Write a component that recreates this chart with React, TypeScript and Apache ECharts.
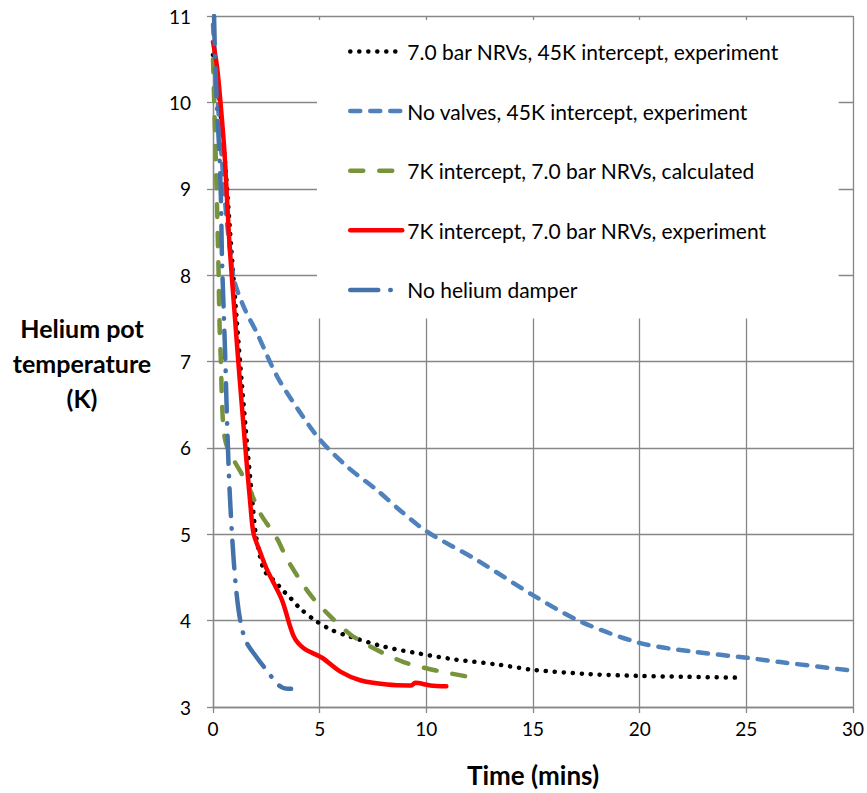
import React, { useEffect, useRef } from "react";
import * as echarts from "echarts";

const FONT = "Lato, 'Open Sans', sans-serif";

const xTicks = [0, 5, 10, 15, 20, 25, 30];
const yTicks = [3, 4, 5, 6, 7, 8, 9, 10, 11];

const seriesNames = [
  "7.0 bar NRVs, 45K intercept, experiment",
  "No valves, 45K intercept, experiment",
  "7K intercept, 7.0 bar NRVs, calculated",
  "7K intercept, 7.0 bar NRVs, experiment",
  "No helium damper",
];

const nrv45Time = [0, 0.2, 0.4, 0.6, 0.86, 1.1, 1.35, 1.62, 1.87, 2.0, 2.2, 2.4, 2.7, 2.92, 3.23, 3.6, 4.09, 4.8, 5.58, 6.36, 8.0, 9.64, 11.36, 13.39, 15.03, 17.69, 19.88, 22.06, 24.57];
const nrv45Temp = [10.55, 10.3, 9.75, 9.2, 8.3, 7.52, 6.75, 5.98, 5.32, 5.01, 4.75, 4.58, 4.5, 4.45, 4.36, 4.27, 4.14, 4.0, 3.89, 3.82, 3.7, 3.62, 3.55, 3.49, 3.43, 3.38, 3.36, 3.35, 3.34];

const noValvesTime = [0, 0.2, 0.4, 0.6, 0.82, 1.0, 1.5, 2.06, 3.0, 4.0, 5.03, 6.3, 7.69, 8.8, 10.03, 12.38, 15.03, 17.22, 20.03, 22.53, 25.03, 26.6, 30];
const noValvesTemp = [10.9, 10.1, 9.4, 8.75, 8.25, 7.93, 7.6, 7.33, 6.83, 6.44, 6.09, 5.78, 5.51, 5.27, 5.03, 4.7, 4.29, 3.99, 3.74, 3.64, 3.57, 3.52, 3.42];

const calcTime = [0, 0.03, 0.11, 0.19, 0.26, 0.31, 0.37, 0.42, 0.5, 0.65, 0.97, 1.59, 2.22, 3.0, 3.5, 4.56, 5.5, 6.44, 7.53, 8.94, 10.5, 12.22];
const calcTemp = [10.5, 10.25, 9.53, 8.79, 8.05, 7.4, 7.0, 6.55, 6.2, 6.02, 5.86, 5.59, 5.24, 4.95, 4.7, 4.3, 4.05, 3.84, 3.68, 3.52, 3.42, 3.34];

const exp7Time = [0, 0.19, 0.34, 0.53, 0.66, 0.78, 1.0, 1.25, 1.5, 1.75, 1.9, 2.2, 2.53, 3.23, 3.78, 4.25, 5.11, 5.97, 6.9, 8.16, 9.17, 9.3, 9.48, 10.19, 10.94];
const exp7Temp = [10.7, 10.41, 10.03, 9.45, 8.87, 8.33, 7.6, 6.8, 6.05, 5.35, 5.01, 4.8, 4.59, 4.24, 3.82, 3.68, 3.57, 3.41, 3.31, 3.26, 3.25, 3.25, 3.28, 3.25, 3.24];

const noDamperTime = [0.05, 0.1, 0.2, 0.3, 0.37, 0.42, 0.5, 0.58, 0.66, 0.78, 0.97, 1.2, 1.51, 2.06, 2.53, 3.0, 3.3, 3.66];
const noDamperTemp = [11.0, 10.5, 9.9, 9.4, 8.9, 8.2, 7.6, 7.0, 6.3, 5.5, 4.7, 4.12, 3.78, 3.57, 3.42, 3.27, 3.22, 3.21];

const zip = (a: number[], b: number[]) => a.map((v, i) => [v, b[i]]);

export default function App() {
  const ref = useRef<HTMLDivElement>(null);
  useEffect(() => {
    if (!ref.current) return;
    const chart = echarts.init(ref.current, null, { renderer: "svg" });
    const gray = "#878787";
    const mk = (name: string, data: number[][], color: string, width: number, type: any) => ({
      name,
      type: "line",
      data,
      symbol: "none",
      smooth: 0.3,
      lineStyle: { color, width, type, cap: "round", join: "round" },
      itemStyle: { color },
    });
    chart.setOption({
      animation: false,
      backgroundColor: "#fff",
      grid: { left: 213, top: 16, width: 640, height: 691, containLabel: false },
      xAxis: {
        type: "value",
        min: xTicks[0],
        max: xTicks[xTicks.length - 1],
        interval: 5,
        axisLine: { show: true, lineStyle: { color: gray, width: 1.3 } },
        axisTick: { show: true, inside: false, length: 6, lineStyle: { color: gray, width: 1.3 } },
        splitLine: { show: true, lineStyle: { color: gray, width: 1.3 } },
        axisLabel: { margin: 12, fontSize: 19, color: "#000", fontFamily: FONT },
      },
      yAxis: {
        type: "value",
        min: yTicks[0],
        max: yTicks[yTicks.length - 1],
        interval: 1,
        axisLine: { show: true, lineStyle: { color: gray, width: 1.3 } },
        axisTick: { show: true, inside: false, length: 6, lineStyle: { color: gray, width: 1.3 } },
        splitLine: { show: true, lineStyle: { color: gray, width: 1.3 } },
        axisLabel: { margin: 22, fontSize: 19, color: "#000", fontFamily: FONT },
      },
      legend: {
        orient: "vertical",
        left: 317,
        top: 20,
        backgroundColor: "#fff",
        padding: [21, 60, 18, 31],
        itemWidth: 52,
        itemHeight: 21,
        itemGap: 38.6,
        itemStyle: { opacity: 0 },
        lineStyle: { width: 4.5 },
        textStyle: { fontSize: 21, color: "#000", fontFamily: FONT },
        data: seriesNames,
      },
      graphic: [
        {
          type: "text",
          x: 82,
          y: 363,
          style: {
            text: "Helium pot\ntemperature\n(K)",
            font: `bold 25px ${FONT}`,
            fill: "#000",
            align: "center",
            verticalAlign: "middle",
            lineHeight: 35,
          },
        },
        {
          type: "text",
          x: 533,
          y: 775,
          style: {
            text: "Time (mins)",
            font: `bold 26px ${FONT}`,
            fill: "#000",
            align: "center",
            verticalAlign: "middle",
          },
        },
      ],
      series: [
        mk(seriesNames[0], zip(nrv45Time, nrv45Temp), "#000000", 4.5, [0.1, 8.9]),
        mk(seriesNames[1], zip(noValvesTime, noValvesTemp), "#4F81BD", 4.5, [10, 10]),
        mk(seriesNames[2], zip(calcTime, calcTemp), "#77933C", 4.5, [13, 16]),
        mk(seriesNames[3], zip(exp7Time, exp7Temp), "#FF0000", 4.5, "solid"),
        mk(seriesNames[4], zip(noDamperTime, noDamperTemp), "#4472AA", 4.5, [28, 12, 0.5, 12]),
      ],
    });
    return () => chart.dispose();
  }, []);
  return <div ref={ref} style={{ position: "absolute", left: 0, top: 0, width: 867, height: 793 }} />;
}
